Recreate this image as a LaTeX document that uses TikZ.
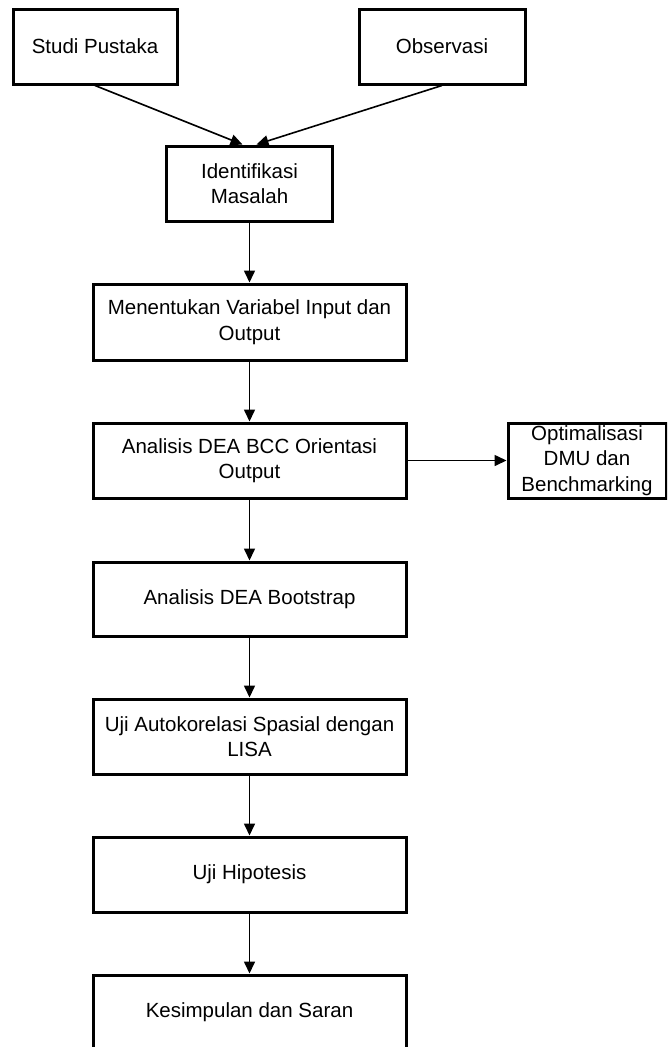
\documentclass[tikz,border=0pt]{standalone}
\usepackage{fontspec}
\setmainfont{Liberation Sans}
\usetikzlibrary{arrows.meta}
\begin{document}
\begin{tikzpicture}[x=1pt,y=-1pt,
  box/.style={draw=black, line width=3pt, rectangle, inner sep=0pt, align=center,
    font=\fontsize{20.5}{25.5}\selectfont},
  mainbox/.style={box, minimum width=313pt, minimum height=75pt},
  conn/.style={line width=1.6pt, -{Triangle[length=12pt,width=11pt]}}]
\useasboundingbox (0,0) rectangle (667,1047);
\clip (0,0) rectangle (667,1047);
\node[box, minimum width=164pt, minimum height=75pt] (studi) at (95,46.5) {Studi Pustaka};
\node[box, minimum width=166pt, minimum height=75pt] (obs) at (442,46.5) {Observasi};
\node[box, minimum width=166pt, minimum height=75pt] (iden) at (249.5,183.5) {Identifikasi\\Masalah};
\node[mainbox, minimum height=76pt] (var) at (249.5,322) {Menentukan Variabel Input dan\\Output};
\node[mainbox] (bcc) at (249.5,460.5) {Analisis DEA BCC Orientasi\\Output};
\node[box, minimum width=158pt, minimum height=75pt] (opt) at (587,460.5) {Optimalisasi\\DMU dan\\Benchmarking};
\node[mainbox, minimum height=74pt] (boot) at (249.5,599) {Analisis DEA Bootstrap};
\node[mainbox] (lisa) at (249.5,736.5) {Uji Autokorelasi Spasial dengan\\LISA};
\node[mainbox] (hip) at (249.5,874.5) {Uji Hipotesis};
\node[mainbox] (kes) at (249.5,1012.5) {Kesimpulan dan Saran};
\draw[conn] (studi.south) -- ([xshift=-7pt]iden.north);
\draw[conn] (obs.south) -- ([xshift=7pt]iden.north);
\draw[conn] (iden.south) -- (var.north);
\draw[conn] (var.south) -- (bcc.north);
\draw[conn] (bcc.east) -- (opt.west);
\draw[conn] (bcc.south) -- (boot.north);
\draw[conn] (boot.south) -- (lisa.north);
\draw[conn] (lisa.south) -- (hip.north);
\draw[conn] (hip.south) -- (kes.north);
\end{tikzpicture}
\end{document}
